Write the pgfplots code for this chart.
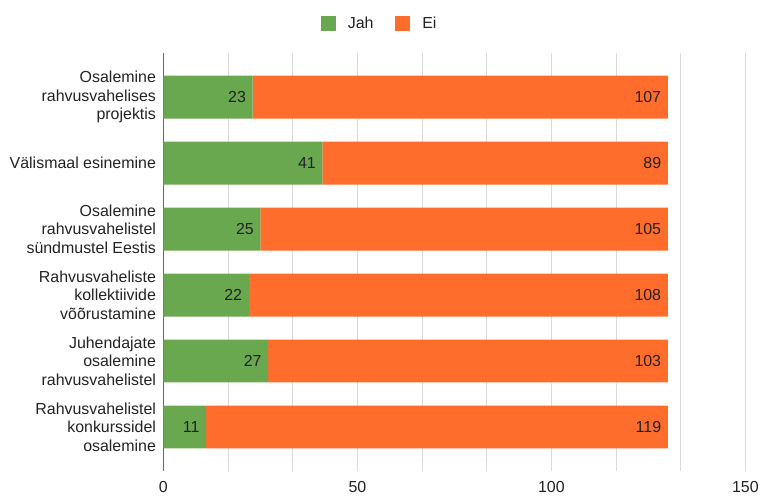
\documentclass[border=0pt]{standalone}
\usepackage{pgfplots}
\usepackage{pgfplotstable}
\pgfplotsset{compat=1.18}
\usepackage{fontspec}
\setmainfont{Liberation Sans}
\definecolor{jahgreen}{HTML}{6AA84F}
\definecolor{eiorange}{HTML}{FF6D2D}
\definecolor{gridgray}{HTML}{DADADA}
\definecolor{axisgray}{HTML}{666666}
\definecolor{txt}{HTML}{222222}
\newcommand{\chartfont}{\fontsize{16bp}{18.5bp}\selectfont}
\pgfplotstableread{
x y
23 0
41 1
25 2
22 3
27 4
11 5
}\jah
\pgfplotstableread{
x y
107 0
89 1
105 2
108 3
103 4
119 5
}\ei
\begin{document}
\begin{tikzpicture}
\path (-164bp,-25bp) rectangle (598bp,473bp);
\begin{axis}[
  at={(0,0)}, anchor=south west,
  scale only axis, width=584bp, height=420bp,
  xbar stacked, bar width=43bp,
  xmin=0, xmax=150, ymin=-0.672, ymax=5.672, y dir=reverse,
  ytick={0,1,2,3,4,5},
  yticklabels={{Osalemine\\rahvusvahelises\\projektis},{Välismaal esinemine},{Osalemine\\rahvusvahelistel\\sündmustel Eestis},{Rahvusvaheliste\\kollektiivide\\võõrustamine},{Juhendajate\\osalemine\\rahvusvahelistel},{Rahvusvahelistel\\konkurssidel\\osalemine}},
  yticklabel style={align=right, font=\chartfont, text=txt, xshift=-4bp},
  xtick={0,50,100,150},
  minor xtick={16.667,33.333,66.667,83.333,116.667,133.333},
  xmajorgrids, xminorgrids,
  major grid style={draw=gridgray, line width=0.9bp},
  minor grid style={draw=gridgray, line width=0.9bp},
  xticklabel style={font=\chartfont, text=txt, yshift=-7bp},
  /pgf/number format/assume math mode=true,
  major tick length=0pt, minor tick length=0pt,
  tick style={draw=none},
  separate axis lines,
  axis x line*=bottom, axis y line*=left,
  x axis line style={draw=none},
  y axis line style={draw=axisgray, line width=1.5bp, -},
  visualization depends on={\thisrow{x}*1.946667-6.5 \as \myshift},
  nodes near coords,
  every node near coord/.append style={anchor=east, inner sep=0pt, xshift=\myshift bp, font=\chartfont, text=txt},
  legend columns=2,
  legend style={at={(0.3716,1.069)}, anchor=center, draw=none, fill=none,
    font=\chartfont, text=txt,
    /tikz/every even column/.append style={column sep=20bp}},
  legend image code/.code={\fill[#1] (0bp,-7.5bp) rectangle (15bp,7.5bp);},
]
\addplot[fill=jahgreen, draw=none] table[x=x, y=y, meta=x] {\jah};
\addplot[fill=eiorange, draw=none] table[x=x, y=y, meta=x] {\ei};
\legend{\hspace{10bp}Jah, \hspace{10bp}Ei}
\end{axis}
\end{tikzpicture}
\end{document}
